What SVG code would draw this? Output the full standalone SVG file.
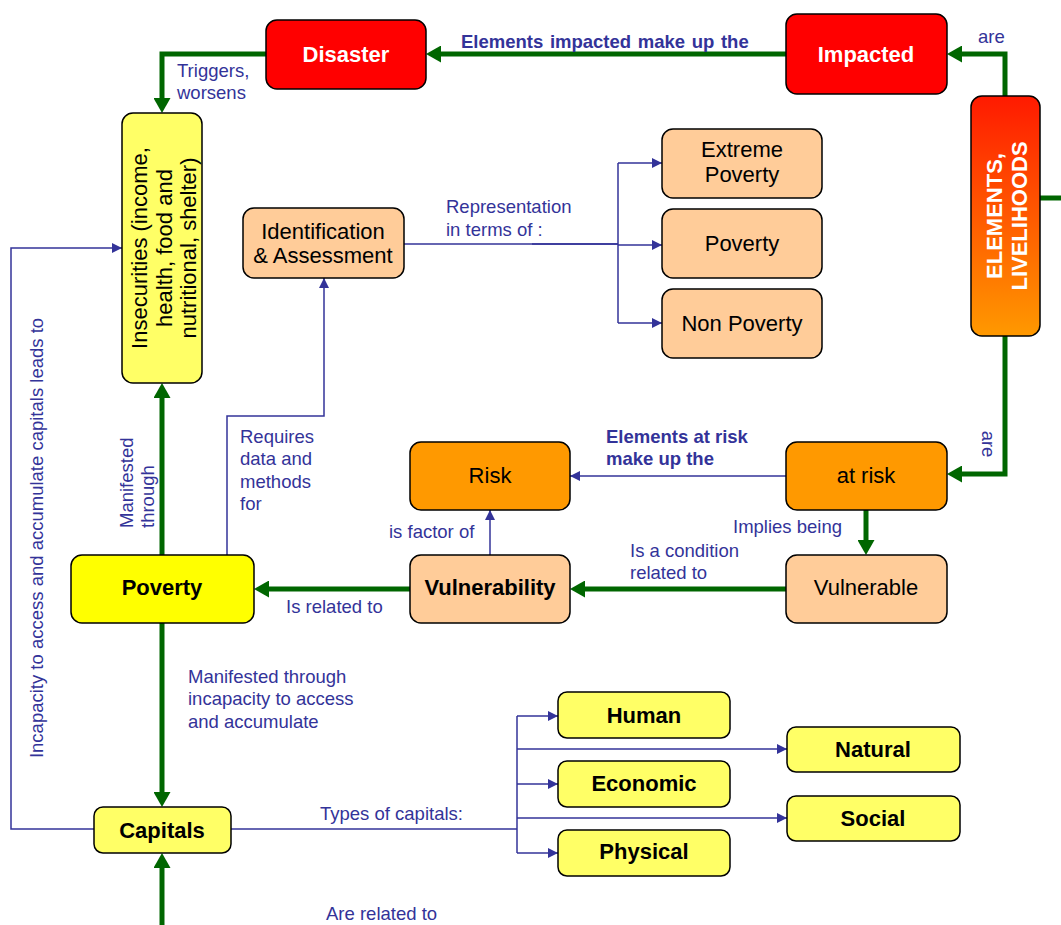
<svg xmlns="http://www.w3.org/2000/svg" width="1061" height="925" viewBox="0 0 1061 925">
  <style>
    .box { stroke: #000; stroke-width: 1.5; }
    .red { fill: #ff0000; }
    .yel { fill: #ffff00; }
    .ylt { fill: #ffff66; }
    .pch { fill: #ffcc99; }
    .org { fill: #ff9900; }
    .t { font-family: "Liberation Sans", Arial, sans-serif; font-size: 22px; text-anchor: middle; fill: #000; }
    .bold { font-weight: bold; }
    .white { fill: #fff; }
    .lbl { font-family: "Liberation Sans", Arial, sans-serif; font-size: 18.5px; fill: #333399; }
    .g { fill: none; stroke: #006600; stroke-width: 5; }
    .bl { fill: none; stroke: #333399; stroke-width: 1.5; }
  </style>
  <defs>
    <linearGradient id="elemGrad" x1="0" y1="0" x2="0" y2="1">
      <stop offset="0" stop-color="#ff1a00"/>
      <stop offset="1" stop-color="#ff9900"/>
    </linearGradient>
    <marker id="ga" markerUnits="userSpaceOnUse" markerWidth="15" markerHeight="17" refX="7" refY="8.5" orient="auto">
      <path d="M0,0 L15,8.5 L0,17 z" fill="#006600"/>
    </marker>
    <marker id="ba" markerUnits="userSpaceOnUse" markerWidth="10" markerHeight="10" refX="10" refY="5" orient="auto">
      <path d="M0,0 L10,5 L0,10 z" fill="#333399"/>
    </marker>
  </defs>

  <!-- connectors -->
  <g id="connectors">
    <!-- thick green links -->
    <path class="g" d="M786,54 H434" marker-end="url(#ga)"/>
    <path class="g" d="M266,54 H162 V105" marker-end="url(#ga)"/>
    <path class="g" d="M1005,96 V54 H955" marker-end="url(#ga)"/>
    <path class="g" d="M1005,336 V474 H955" marker-end="url(#ga)"/>
    <path class="g" d="M866,510 V547" marker-end="url(#ga)"/>
    <path class="g" d="M786,589 H578" marker-end="url(#ga)"/>
    <path class="g" d="M410,589 H262" marker-end="url(#ga)"/>
    <path class="g" d="M162,555 V391" marker-end="url(#ga)"/>
    <path class="g" d="M162,623 V799" marker-end="url(#ga)"/>
    <path class="g" d="M162,925 V861" marker-end="url(#ga)"/>
    <path class="g" d="M1040,198 H1061"/>

    <!-- thin blue links -->
    <path class="bl" d="M786,476 H570" marker-end="url(#ba)"/>
    <path class="bl" d="M490,555 V510" marker-end="url(#ba)"/>
    <path class="bl" d="M227,555 V416 H324 V278" marker-end="url(#ba)"/>
    <path class="bl" d="M404,244 H618"/>
    <path class="bl" d="M532,244 H618" stroke-width="3"/>
    <path class="bl" d="M618,163 V323"/>
    <path class="bl" d="M618,163 H662" marker-end="url(#ba)"/>
    <path class="bl" d="M618,245 H662" marker-end="url(#ba)"/>
    <path class="bl" d="M618,323 H662" marker-end="url(#ba)"/>
    <path class="bl" d="M94,829 H11 V248 H122" marker-end="url(#ba)"/>
    <path class="bl" d="M231,829 H517" stroke-width="2.2"/>
    <path class="bl" d="M517,716 V853"/>
    <path class="bl" d="M517,716 H558" marker-end="url(#ba)"/>
    <path class="bl" d="M517,749 H787" marker-end="url(#ba)"/>
    <path class="bl" d="M517,784 H558" marker-end="url(#ba)"/>
    <path class="bl" d="M517,818 H787" marker-end="url(#ba)"/>
    <path class="bl" d="M517,853 H558" marker-end="url(#ba)"/>

    <!-- link labels -->
    <text class="lbl" x="177" y="77">Triggers,</text>
    <text class="lbl" x="177" y="99">worsens</text>
    <text class="lbl" x="461" y="48" font-weight="bold" word-spacing="1.5">Elements impacted make up the</text>
    <text class="lbl" x="978" y="43">are</text>
    <text class="lbl" transform="translate(982,444) rotate(90)" text-anchor="middle">are</text>
    <text class="lbl" x="446" y="213">Representation</text>
    <text class="lbl" x="446" y="236">in terms of :</text>
    <text class="lbl" x="240" y="443">Requires</text>
    <text class="lbl" x="240" y="465">data and</text>
    <text class="lbl" x="240" y="488">methods</text>
    <text class="lbl" x="240" y="510">for</text>
    <text class="lbl" transform="translate(133,528) rotate(-90)">Manifested</text>
    <text class="lbl" transform="translate(154,528) rotate(-90)">through</text>
    <text class="lbl" transform="translate(43,538) rotate(-90)" text-anchor="middle">Incapacity to access and accumulate capitals leads to</text>
    <text class="lbl" x="606" y="443" font-weight="bold">Elements at risk</text>
    <text class="lbl" x="606" y="465" font-weight="bold">make up the</text>
    <text class="lbl" x="733" y="533">Implies being</text>
    <text class="lbl" x="630" y="557">Is a condition</text>
    <text class="lbl" x="630" y="579">related to</text>
    <text class="lbl" x="389" y="538">is factor of</text>
    <text class="lbl" x="286" y="613">Is related to</text>
    <text class="lbl" x="188" y="683">Manifested through</text>
    <text class="lbl" x="188" y="705">incapacity to access</text>
    <text class="lbl" x="188" y="728">and accumulate</text>
    <text class="lbl" x="320" y="820">Types of capitals:</text>
    <text class="lbl" x="326" y="920">Are related to</text>
  </g>

  <g id="disaster">
    <rect class="box red" x="266" y="20" width="160" height="69" rx="11"/>
    <text class="t bold white" x="346" y="62">Disaster</text>
  </g>
  <g id="impacted">
    <rect class="box red" x="786" y="14" width="161" height="80" rx="11"/>
    <text class="t bold white" x="866" y="62">Impacted</text>
  </g>
  <g id="elements">
    <rect class="box" x="971" y="96" width="69" height="240" rx="11" fill="url(#elemGrad)"/>
    <text class="t bold white" transform="translate(1002,216) rotate(-90)">ELEMENTS,</text>
    <text class="t bold white" transform="translate(1027,216) rotate(-90)">LIVELIHOODS</text>
  </g>
  <g id="insecurities">
    <rect class="box ylt" x="122" y="113" width="80" height="270" rx="11"/>
    <text class="t" transform="translate(147,248) rotate(-90)">Insecurities (income,</text>
    <text class="t" transform="translate(172,248) rotate(-90)">health, food and</text>
    <text class="t" transform="translate(196,248) rotate(-90)">nutritional, shelter)</text>
  </g>
  <g id="identification">
    <rect class="box pch" x="243" y="208" width="161" height="70" rx="11"/>
    <text class="t" x="323" y="239">Identification</text>
    <text class="t" x="323" y="263">&amp; Assessment</text>
  </g>
  <g id="extreme-poverty">
    <rect class="box pch" x="662" y="129" width="160" height="69" rx="11"/>
    <text class="t" x="742" y="157">Extreme</text>
    <text class="t" x="742" y="182">Poverty</text>
  </g>
  <g id="poverty-level">
    <rect class="box pch" x="662" y="209" width="160" height="69" rx="11"/>
    <text class="t" x="742" y="251">Poverty</text>
  </g>
  <g id="non-poverty">
    <rect class="box pch" x="662" y="289" width="160" height="69" rx="11"/>
    <text class="t" x="742" y="331">Non Poverty</text>
  </g>
  <g id="risk">
    <rect class="box org" x="410" y="442" width="160" height="68" rx="11"/>
    <text class="t" x="490" y="483">Risk</text>
  </g>
  <g id="at-risk">
    <rect class="box org" x="786" y="442" width="161" height="68" rx="11"/>
    <text class="t" x="866" y="483">at risk</text>
  </g>
  <g id="vulnerability">
    <rect class="box pch" x="410" y="555" width="160" height="68" rx="11"/>
    <text class="t bold" x="490" y="595">Vulnerability</text>
  </g>
  <g id="vulnerable">
    <rect class="box pch" x="786" y="555" width="161" height="68" rx="11"/>
    <text class="t" x="866" y="595">Vulnerable</text>
  </g>
  <g id="poverty">
    <rect class="box yel" x="71" y="555" width="183" height="68" rx="11"/>
    <text class="t bold" x="162" y="595">Poverty</text>
  </g>
  <g id="capitals">
    <rect class="box ylt" x="94" y="807" width="137" height="46" rx="9"/>
    <text class="t bold" x="162" y="838">Capitals</text>
  </g>
  <g id="human">
    <rect class="box ylt" x="558" y="692" width="172" height="46" rx="9"/>
    <text class="t bold" x="644" y="723">Human</text>
  </g>
  <g id="natural">
    <rect class="box ylt" x="787" y="727" width="173" height="45" rx="9"/>
    <text class="t bold" x="873" y="757">Natural</text>
  </g>
  <g id="economic">
    <rect class="box ylt" x="558" y="761" width="172" height="46" rx="9"/>
    <text class="t bold" x="644" y="791">Economic</text>
  </g>
  <g id="social">
    <rect class="box ylt" x="787" y="796" width="173" height="45" rx="9"/>
    <text class="t bold" x="873" y="826">Social</text>
  </g>
  <g id="physical">
    <rect class="box ylt" x="558" y="830" width="172" height="46" rx="9"/>
    <text class="t bold" x="644" y="859">Physical</text>
  </g>
</svg>
